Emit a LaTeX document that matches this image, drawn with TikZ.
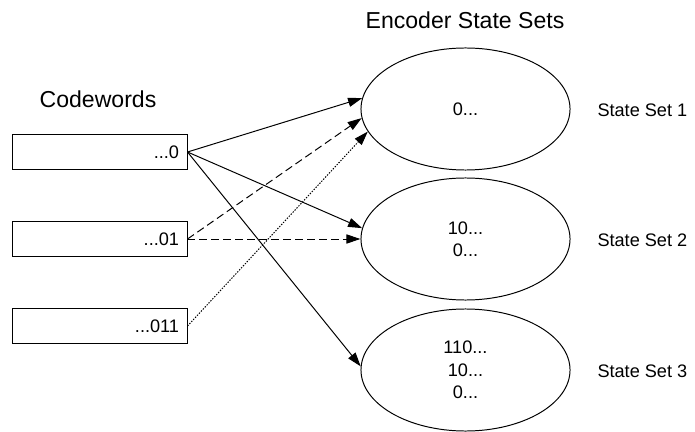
\documentclass[tikz,border=0pt]{standalone}
\usepackage{fontspec}
\setmainfont{Liberation Sans}
\usepackage{tikz}
\usetikzlibrary{arrows.meta,positioning,shapes.geometric}

\begin{document}
\begin{tikzpicture}
[x=0.025cm, y=-0.025cm, line width=0.7pt,
			>={Triangle[length=10pt,width=6.5pt]},
			codebox/.style={rectangle,draw,minimum height=0.875cm,text width=3.95cm,
				inner xsep=0.2cm,inner ysep=0pt,align=right,font=\fontsize{12.9}{15.9}\selectfont},
			stateset/.style={ellipse,draw,minimum width=5.225cm,minimum height=3.05cm,
				inner sep=0pt,align=center,font=\fontsize{12.9}{15.9}\selectfont},
			setlabel/.style={anchor=west,inner sep=0pt,font=\fontsize{12.9}{15.9}\selectfont},
			heading/.style={inner sep=0pt,font=\fontsize{16.4}{19}\selectfont},
			dashedarrow/.style={->,dash pattern=on 5.5pt off 3pt},
			dottedarrow/.style={->,dash pattern=on 1pt off 1pt}]
\useasboundingbox (0,0) rectangle (695,432);

\node (cw) at (98,99)[heading] {Codewords};
\node (ess) at (465,20)[heading] {Encoder State Sets};

\node (b1) at (100,152)[codebox] {...0};
\node (b2) at (100,239)[codebox] {...01};
\node (b3) at (100,326)[codebox] {...011};

\node (s1) at (465.5,109)[stateset] {0...};
\node (s2) at (465.5,239)[stateset] {10...\\0...};
\node (s3) at (465.5,370)[stateset] {110...\\10...\\0...};

\node (l1) at (597,110)[setlabel] {State Set 1};
\node (l2) at (597,240)[setlabel] {State Set 2};
\node (l3) at (597,371)[setlabel] {State Set 3};

% solid: ...0
\draw[->] (b1.east) -- (s1.174);
\draw[->] (b1.east) -- (s2.174);
\draw[->] (b1.east) -- (s3.178);

% dashed: ...01
\draw[dashedarrow] (b2.east) -- (s1.185);
\draw[dashedarrow] (b2.east) -- (s2.180);

% dotted: ...011
\draw[dottedarrow] (b3.east) -- (s1.193);

\end{tikzpicture}
\end{document}
